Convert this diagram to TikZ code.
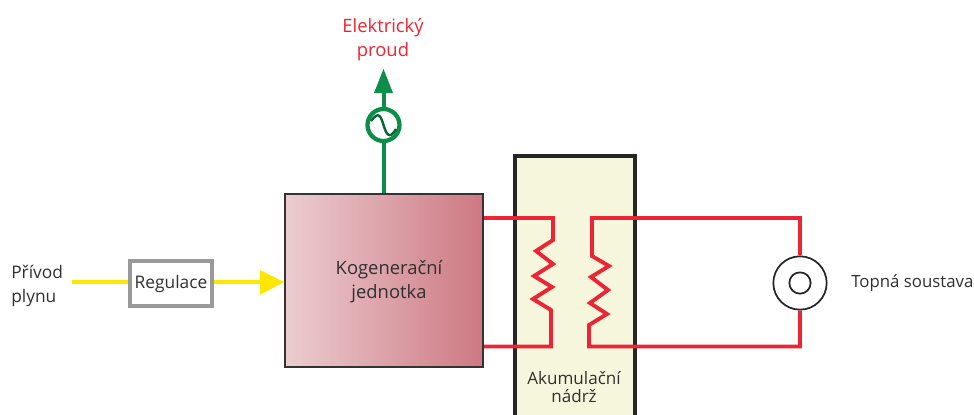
\documentclass[tikz,border=0pt]{standalone}
\usepackage{fontspec}
\setmainfont{Open Sans}
\definecolor{redline}{HTML}{EC2433}
\definecolor{greenline}{HTML}{0B8F48}
\definecolor{yellowline}{HTML}{FFE600}
\definecolor{txt}{HTML}{303030}
\definecolor{tankfill}{HTML}{F5F6DC}
\definecolor{grayframe}{HTML}{9A9A9A}
\definecolor{kogleft}{HTML}{EBCDD0}
\definecolor{kogright}{HTML}{CE7882}
\tikzset{
  lbl/.style={font=\fontsize{13pt}{18pt}\selectfont, text=txt, align=center, inner sep=0pt},
  redpipe/.style={draw=redline, line width=2.9pt, line join=miter},
  greenpipe/.style={draw=greenline, line width=3pt},
  yellowpipe/.style={draw=yellowline, line width=3pt},
  box/.style={rectangle, inner sep=0pt, anchor=center},
}
\begin{document}
\begin{tikzpicture}[x=0.75pt,y=-0.75pt]
\clip (0,0) rectangle (974,414);
\fill[white] (0,0) rectangle (974,414);
% tank
\node[box, draw=black!85, line width=3pt, fill=tankfill, minimum width=90.5pt, minimum height=240pt] (tank) at (575,316) {};
% cogeneration unit
\node[box, draw=black!80, line width=1.5pt, left color=kogleft, right color=kogright, minimum width=148.5pt, minimum height=129.75pt] (kog) at (384,280.5) {};
\node[lbl, font=\fontsize{13.8pt}{18pt}\selectfont] (kogtext) at (389,282) {Kogenerační\\jednotka};
\node[lbl, font=\fontsize{12.8pt}{14pt}\selectfont] (tanktext) at (574,387) {Akumulační\\nádrž};
% regulator
\node[box, draw=grayframe, line width=3pt, fill=white, minimum width=62pt, minimum height=33.5pt, font=\fontsize{13pt}{15pt}\selectfont, text=txt] (reg) at (171,283.5) {Regulace};
\node[lbl, align=left, anchor=west] (privod) at (11,286) {Přívod\\plynu};
\coordinate (gasin) at (72,282);
\draw[yellowpipe] (gasin) -- (reg.west |- gasin);
\coordinate (regout) at (reg.east |- gasin);
\coordinate (arrowbase) at (260,282);
\coordinate (arrowtip) at (kog.west |- gasin);
\draw[yellowpipe] (regout) -- (arrowbase);
\fill[yellowline] (arrowtip) -- (260,270) -- (260,295) -- cycle;
% generator
\node[circle, draw=greenline, line width=3.2pt, fill=white, minimum size=24pt, inner sep=0pt] (gen) at (383.5,125) {};
\coordinate (kogtop) at (kog.north -| gen);
\draw[greenpipe] (kogtop) -- (gen.south);
\coordinate (tip) at (383.5,69);
\coordinate (tipbase) at (383.5,92);
\draw[greenpipe] (gen.north) -- (tipbase);
\fill[greenline] (tip) -- (393,93) -- (374,93) -- cycle;
\draw[greenline!70!black, line width=1.8pt] (371,121) .. controls (379,110) and (381,117) .. (383.5,125) .. controls (386,133) and (389,141) .. (396,129);
\node[lbl, text=redline, font=\fontsize{13.8pt}{18pt}\selectfont] (eltext) at (383,40) {Elektrický\\proud};
% heater
\node[circle, draw=black!85, line width=1.3pt, fill=white, minimum size=40pt, inner sep=0pt] (heat) at (800,283) {};
\node[circle, draw=black!85, line width=1.3pt, fill=white, minimum size=16pt, inner sep=0pt] (heatin) at (800,283) {};
\node[lbl, anchor=west, font=\fontsize{12.6pt}{15pt}\selectfont] (heattext) at (851,283) {Topná soustava};
% pipes
\coordinate (k1) at (kog.east |- 0,218);
\coordinate (k2) at (kog.east |- 0,346.5);
\draw[redpipe] (k1) -- (553,218) -- (553,240) -- (536,251) -- (553,264) -- (534,276) -- (552,287) -- (533,299) -- (551,310) -- (551,346.5) -- (k2);
\draw[redpipe] (heat.north) -- (800,218) -- (592,218) -- (592,256) -- (609,266) -- (591,277) -- (608,290) -- (590,303) -- (607,314) -- (589,325) -- (589,346.5) -- (800,346.5) -- (heat.south);
\end{tikzpicture}
\end{document}
